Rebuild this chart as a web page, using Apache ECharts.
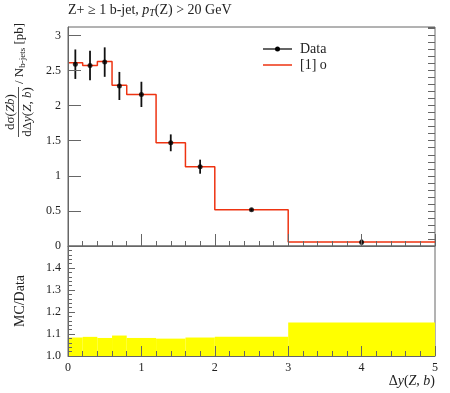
<!DOCTYPE html>
<html><head><meta charset="utf-8">
<script src="https://cdn.jsdelivr.net/npm/echarts@6/dist/echarts.min.js"></script>
<style>html,body{margin:0;padding:0;background:#fff}#c{width:450px;height:393px}</style>
</head><body><div id="c"></div>
<script>
const binEdges = [0, 0.2, 0.4, 0.6, 0.8, 1.2, 1.6, 2.0, 3.0, 5.0];
const dataValues = [2.59, 2.57, 2.62, 2.28, 2.16, 1.47, 1.13, 0.516, 0.055];
const dataErrors = [0.21, 0.21, 0.21, 0.20, 0.18, 0.12, 0.10, 0.02, 0.04];
const mcValues = [2.61, 2.57, 2.63, 2.29, 2.16, 1.47, 1.13, 0.516, 0.057];
const ratioBand = [1.084, 1.087, 1.082, 1.093, 1.082, 1.079, 1.084, 1.087, 1.152];
const mainYTicks = [0, 0.5, 1, 1.5, 2, 2.5, 3];
const ratioYTicks = [1.0, 1.1, 1.2, 1.3, 1.4];
const xTicks = [0, 1, 2, 3, 4, 5];

const FONT = 'Liberation Serif';
const AX = '#666';
const TXT = '#222';

const stepData = [];
for (let i = 0; i < mcValues.length; i++) {
  stepData.push([binEdges[i], mcValues[i]]);
  stepData.push([binEdges[i + 1], mcValues[i]]);
}
const pointData = dataValues.map((v, i) => [(binEdges[i] + binEdges[i + 1]) / 2, v, dataErrors[i]]);
const bandData = ratioBand.map((v, i) => [binEdges[i], binEdges[i + 1], v]);

const near = (v, arr) => arr.some(t => Math.abs(t - v) < 1e-6);

const chart = echarts.init(document.getElementById('c'), null, {renderer: 'canvas'});
const option = {
  animation: false,
  backgroundColor: '#fff',
  grid: [
    {left: 68, right: 15, top: 27, height: 219, show: true, borderColor: AX, borderWidth: 1, backgroundColor: 'transparent'},
    {left: 68, right: 15, top: 246, height: 110, show: true, borderColor: AX, borderWidth: 1, backgroundColor: 'transparent'}
  ],
  xAxis: [
    {gridIndex: 0, type: 'value', min: 0, max: 5, interval: 1, z: 10,
     axisLine: {show: true, onZero: false, lineStyle: {color: AX}},
     axisTick: {show: true, inside: true, length: 12, lineStyle: {color: AX}},
     minorTick: {show: true, splitNumber: 5, length: 5, lineStyle: {color: AX}},
     axisLabel: {show: false}, splitLine: {show: false}, minorSplitLine: {show: false}},
    {gridIndex: 1, type: 'value', min: 0, max: 5, interval: 1, z: 10,
     axisLine: {show: true, onZero: false, lineStyle: {color: AX}},
     axisTick: {show: true, inside: true, length: 10, lineStyle: {color: AX}},
     minorTick: {show: true, splitNumber: 5, length: 5, lineStyle: {color: AX}},
     axisLabel: {show: true, margin: 6, fontFamily: FONT, fontSize: 12, color: TXT,
                 formatter: v => near(v, xTicks) ? String(Math.round(v)) : ''},
     splitLine: {show: false}, minorSplitLine: {show: false}}
  ],
  yAxis: [
    {gridIndex: 0, type: 'value', min: 0, max: 3.12, interval: 0.5, z: 10,
     axisLine: {show: true, onZero: false, lineStyle: {color: AX}},
     axisTick: {show: true, inside: true, length: 13, lineStyle: {color: AX}},
     minorTick: {show: false},
     axisLabel: {show: true, margin: 7, fontFamily: FONT, fontSize: 12, color: TXT, showMaxLabel: false,
                 formatter: v => near(v, mainYTicks) ? String(+v.toFixed(1)) : ''},
     splitLine: {show: false}},
    {gridIndex: 0, type: 'value', min: 0, max: 3.12, interval: 0.1, z: 10,
     axisLine: {show: false, onZero: false},
     axisTick: {show: true, inside: true, length: 7, lineStyle: {color: AX}},
     axisLabel: {show: false}, splitLine: {show: false}},
    {gridIndex: 1, type: 'value', min: 1.0, max: 1.5, interval: 0.1, z: 10,
     axisLine: {show: true, onZero: false, lineStyle: {color: AX}},
     axisTick: {show: true, inside: true, length: 7, lineStyle: {color: AX}},
     minorTick: {show: true, splitNumber: 5, length: 4, lineStyle: {color: AX}},
     axisLabel: {show: true, margin: 7, fontFamily: FONT, fontSize: 12, color: TXT, showMaxLabel: false,
                 formatter: v => near(v, ratioYTicks) ? v.toFixed(1) : ''},
     splitLine: {show: false},
     name: 'MC/Data', nameLocation: 'middle', nameGap: 41, nameRotate: 90,
     nameTextStyle: {fontFamily: FONT, fontSize: 14, color: TXT}}
  ],
  series: [
    {type: 'custom', name: 'band', xAxisIndex: 1, yAxisIndex: 2, z: 1,
     data: bandData, encode: {x: [0, 1], y: 2},
     renderItem: (params, api) => {
       const p1 = api.coord([api.value(0), api.value(2)]);
       const p2 = api.coord([api.value(1), 1.0]);
       return {type: 'rect', shape: {x: p1[0], y: p1[1], width: p2[0] - p1[0], height: p2[1] - p1[1]},
               style: {fill: '#ffff00'}};
     }},
    {type: 'line', name: '[1] o', xAxisIndex: 0, yAxisIndex: 0, data: stepData, showSymbol: false,
     symbol: 'none', lineStyle: {color: '#ee3311', width: 1.5}, z: 3},
    {type: 'custom', name: 'errors', xAxisIndex: 0, yAxisIndex: 0, z: 4,
     data: pointData, encode: {x: 0, y: 1},
     renderItem: (params, api) => {
       const x = api.value(0), y = api.value(1), e = api.value(2);
       const t = api.coord([x, y + e]);
       const b = api.coord([x, y - e]);
       return {type: 'line', shape: {x1: t[0], y1: t[1], x2: b[0], y2: b[1]},
               style: {stroke: '#111', lineWidth: 1.8}};
     }},
    {type: 'scatter', name: 'Data', xAxisIndex: 0, yAxisIndex: 0, z: 5,
     data: pointData.map(p => [p[0], p[1]]), symbol: 'circle', symbolSize: 5,
     itemStyle: {color: '#000'}}
  ],
  graphic: [
    {type: 'text', left: 68, top: 3, z: 20,
     style: {text: '{n|Z+ ≥ 1 b-jet, }{i|p}{s|T}{n|(Z) > 20 GeV}', fill: TXT,
             rich: {n: {fontFamily: FONT, fontSize: 14, fill: TXT},
                    i: {fontFamily: FONT, fontSize: 14, fontStyle: 'italic', fill: TXT},
                    s: {fontFamily: FONT, fontSize: 10, fontStyle: 'italic', fill: TXT, verticalAlign: 'bottom', padding: [6, 0, 0, 0]}}}},
    {type: 'group', x: 18.5, y: 112, rotation: Math.PI / 2, z: 20, children: [
      {type: 'text', x: 0, y: -8,
       style: {text: '{n|dσ(}{i|Zb}{n|)}', align: 'center', verticalAlign: 'middle',
               rich: {n: {fontFamily: FONT, fontSize: 13, fill: TXT}, i: {fontFamily: FONT, fontSize: 13, fontStyle: 'italic', fill: TXT}}}},
      {type: 'line', shape: {x1: -25, y1: 0, x2: 25, y2: 0}, style: {stroke: TXT, lineWidth: 0.8}},
      {type: 'text', x: 0, y: 9,
       style: {text: '{n|dΔ}{i|y}{n|(}{i|Z}{n|, }{i|b}{n|)}', align: 'center', verticalAlign: 'middle',
               rich: {n: {fontFamily: FONT, fontSize: 13, fill: TXT}, i: {fontFamily: FONT, fontSize: 13, fontStyle: 'italic', fill: TXT}}}},
      {type: 'text', x: 28, y: 1,
       style: {text: '{n|/ N}{s|b-jets}{n| [pb]}', align: 'left', verticalAlign: 'middle',
               rich: {n: {fontFamily: FONT, fontSize: 13, fill: TXT},
                      s: {fontFamily: FONT, fontSize: 9, fill: TXT, verticalAlign: 'bottom', padding: [6, 0, 0, 0]}}}}
    ]},
    {type: 'line', shape: {x1: 263, y1: 49, x2: 292, y2: 49}, style: {stroke: '#111', lineWidth: 1.3}, z: 20},
    {type: 'circle', shape: {cx: 277.5, cy: 49, r: 2.5}, style: {fill: '#000'}, z: 21},
    {type: 'text', x: 300, y: 49, z: 20,
     style: {text: 'Data', fontFamily: FONT, fontSize: 14, fill: TXT, verticalAlign: 'middle'}},
    {type: 'line', shape: {x1: 263, y1: 65, x2: 292, y2: 65}, style: {stroke: '#ee3311', lineWidth: 1.5}, z: 20},
    {type: 'text', x: 300, y: 65, z: 20,
     style: {text: '[1] o', fontFamily: FONT, fontSize: 14, fill: TXT, verticalAlign: 'middle'}},
    {type: 'text', right: 15, top: 374, z: 20,
     style: {text: '{n|Δ}{i|y}{n|(}{i|Z}{n|, }{i|b}{n|)}',
             rich: {n: {fontFamily: FONT, fontSize: 14, fill: TXT}, i: {fontFamily: FONT, fontSize: 14, fontStyle: 'italic', fill: TXT}}}}
  ]
};
chart.setOption(option);
</script>
</body></html>
